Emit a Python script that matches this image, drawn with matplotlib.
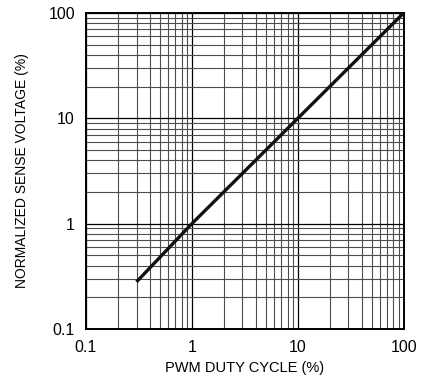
import matplotlib
matplotlib.use("Agg")
import matplotlib.pyplot as plt
from matplotlib.ticker import LogLocator, NullFormatter, FixedLocator, FixedFormatter

# dados
duty_cycle = [0.3, 1, 10, 100]
sense_voltage = [0.28, 1.0, 10, 100]

tick_vals = [0.1, 1, 10, 100]
tick_labels = ["0.1", "1", "10", "100"]

plt.rcParams["font.family"] = ["Liberation Sans", "DejaVu Sans"]

fig = plt.figure(figsize=(4.23, 3.83), dpi=100)
ax = fig.add_axes([0.2033, 0.141, 0.751, 0.825])

ax.plot(duty_cycle, sense_voltage, color="#111111", linewidth=2.4, solid_capstyle="butt", zorder=3)

ax.set_xscale("log")
ax.set_yscale("log")
ax.set_xlim(0.1, 100)
ax.set_ylim(0.1, 100)

for axis in (ax.xaxis, ax.yaxis):
    axis.set_major_locator(FixedLocator(tick_vals))
    axis.set_major_formatter(FixedFormatter(tick_labels))
    axis.set_minor_locator(LogLocator(base=10, subs=range(2, 10), numticks=20))
    axis.set_minor_formatter(NullFormatter())

ax.grid(which="major", color="black", linewidth=0.9)
ax.grid(which="minor", color="0.3", linewidth=0.8)
ax.tick_params(which="both", length=0)
ax.tick_params(axis="x", pad=8, labelsize=11.5)
ax.tick_params(axis="y", pad=8, labelsize=11.5)

for s in ax.spines.values():
    s.set_linewidth(1.4)
    s.set_color("black")

ax.set_xlabel("PWM DUTY CYCLE (%)", fontsize=10.5, labelpad=4)
ax.set_ylabel("NORMALIZED SENSE VOLTAGE (%)", fontsize=10, labelpad=14)

plt.savefig("out.png", dpi=100)
